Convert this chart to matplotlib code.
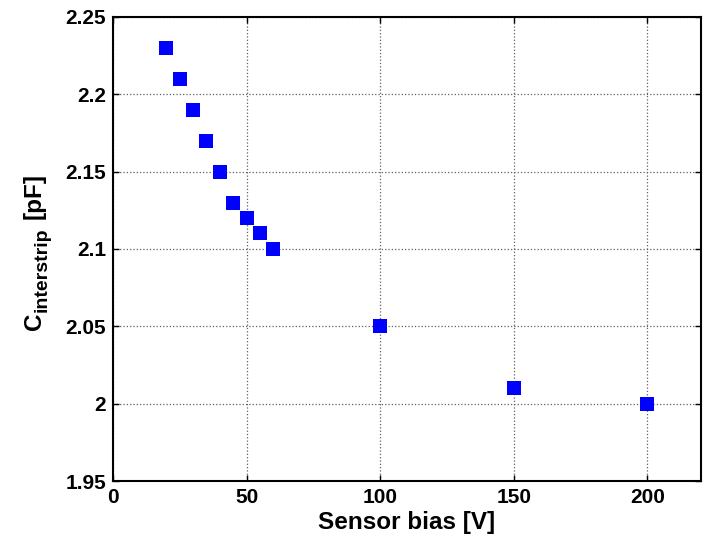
import numpy as np
import matplotlib
matplotlib.use("Agg")
import matplotlib.pyplot as plt
from matplotlib.ticker import FuncFormatter

plt.rcParams['font.family'] = ['Liberation Sans', 'DejaVu Sans']
plt.rcParams['font.weight'] = 'bold'

# sensor bias [V] and interstrip capacitance [pF]
bias = [20, 25, 30, 35, 40, 45, 50, 55, 60, 100, 150, 200]
cap = [2.23, 2.21, 2.19, 2.17, 2.15, 2.13, 2.12, 2.11, 2.10, 2.05, 2.01, 2.00]

xticks = [0, 50, 100, 150, 200]
yticks = [1.95, 2.0, 2.05, 2.1, 2.15, 2.2, 2.25]

W, H = 715, 540
fig = plt.figure(figsize=(W / 100, H / 100), dpi=100)
ax = fig.add_axes([0.158, 0.109, 0.822, 0.860])

ax.plot(bias, cap, 's', color='#0000ff', markersize=9.5, markeredgewidth=0)

ax.set_xlim(0, 220)
ax.set_ylim(1.95, 2.25)
ax.set_xticks(xticks)
ax.set_yticks(yticks)
ax.xaxis.set_major_formatter(FuncFormatter(lambda v, p: '%g' % v))
ax.yaxis.set_major_formatter(FuncFormatter(lambda v, p: '%g' % round(v, 2)))

ax.grid(True, linestyle=':', color='#606060', linewidth=0.9)
ax.tick_params(direction='in', top=True, right=True, length=4, width=1,
               labelsize=15, pad=5)
for lab in ax.get_xticklabels() + ax.get_yticklabels():
    lab.set_fontweight('bold')
for s in ax.spines.values():
    s.set_linewidth(1.5)

ax.set_xlabel('Sensor bias [V]', fontsize=17.5, fontweight='bold', labelpad=3)

# y label built from pieces so the subscript can be larger than mathtext's
r = fig.canvas.get_renderer()
kw = dict(rotation=90, rotation_mode='anchor', ha='left', va='baseline',
          fontweight='bold')
t1 = fig.text(41 / W, 210 / H, 'C', fontsize=17.5, **kw)
y = t1.get_window_extent(r).y1
t2 = fig.text(47 / W, (y + 1) / H, 'interstrip', fontsize=14, **kw)
y = t2.get_window_extent(r).y1
fig.text(41 / W, (y + 8) / H, '[pF]', fontsize=17.5, **kw)

fig.savefig('out.png', dpi=100)
